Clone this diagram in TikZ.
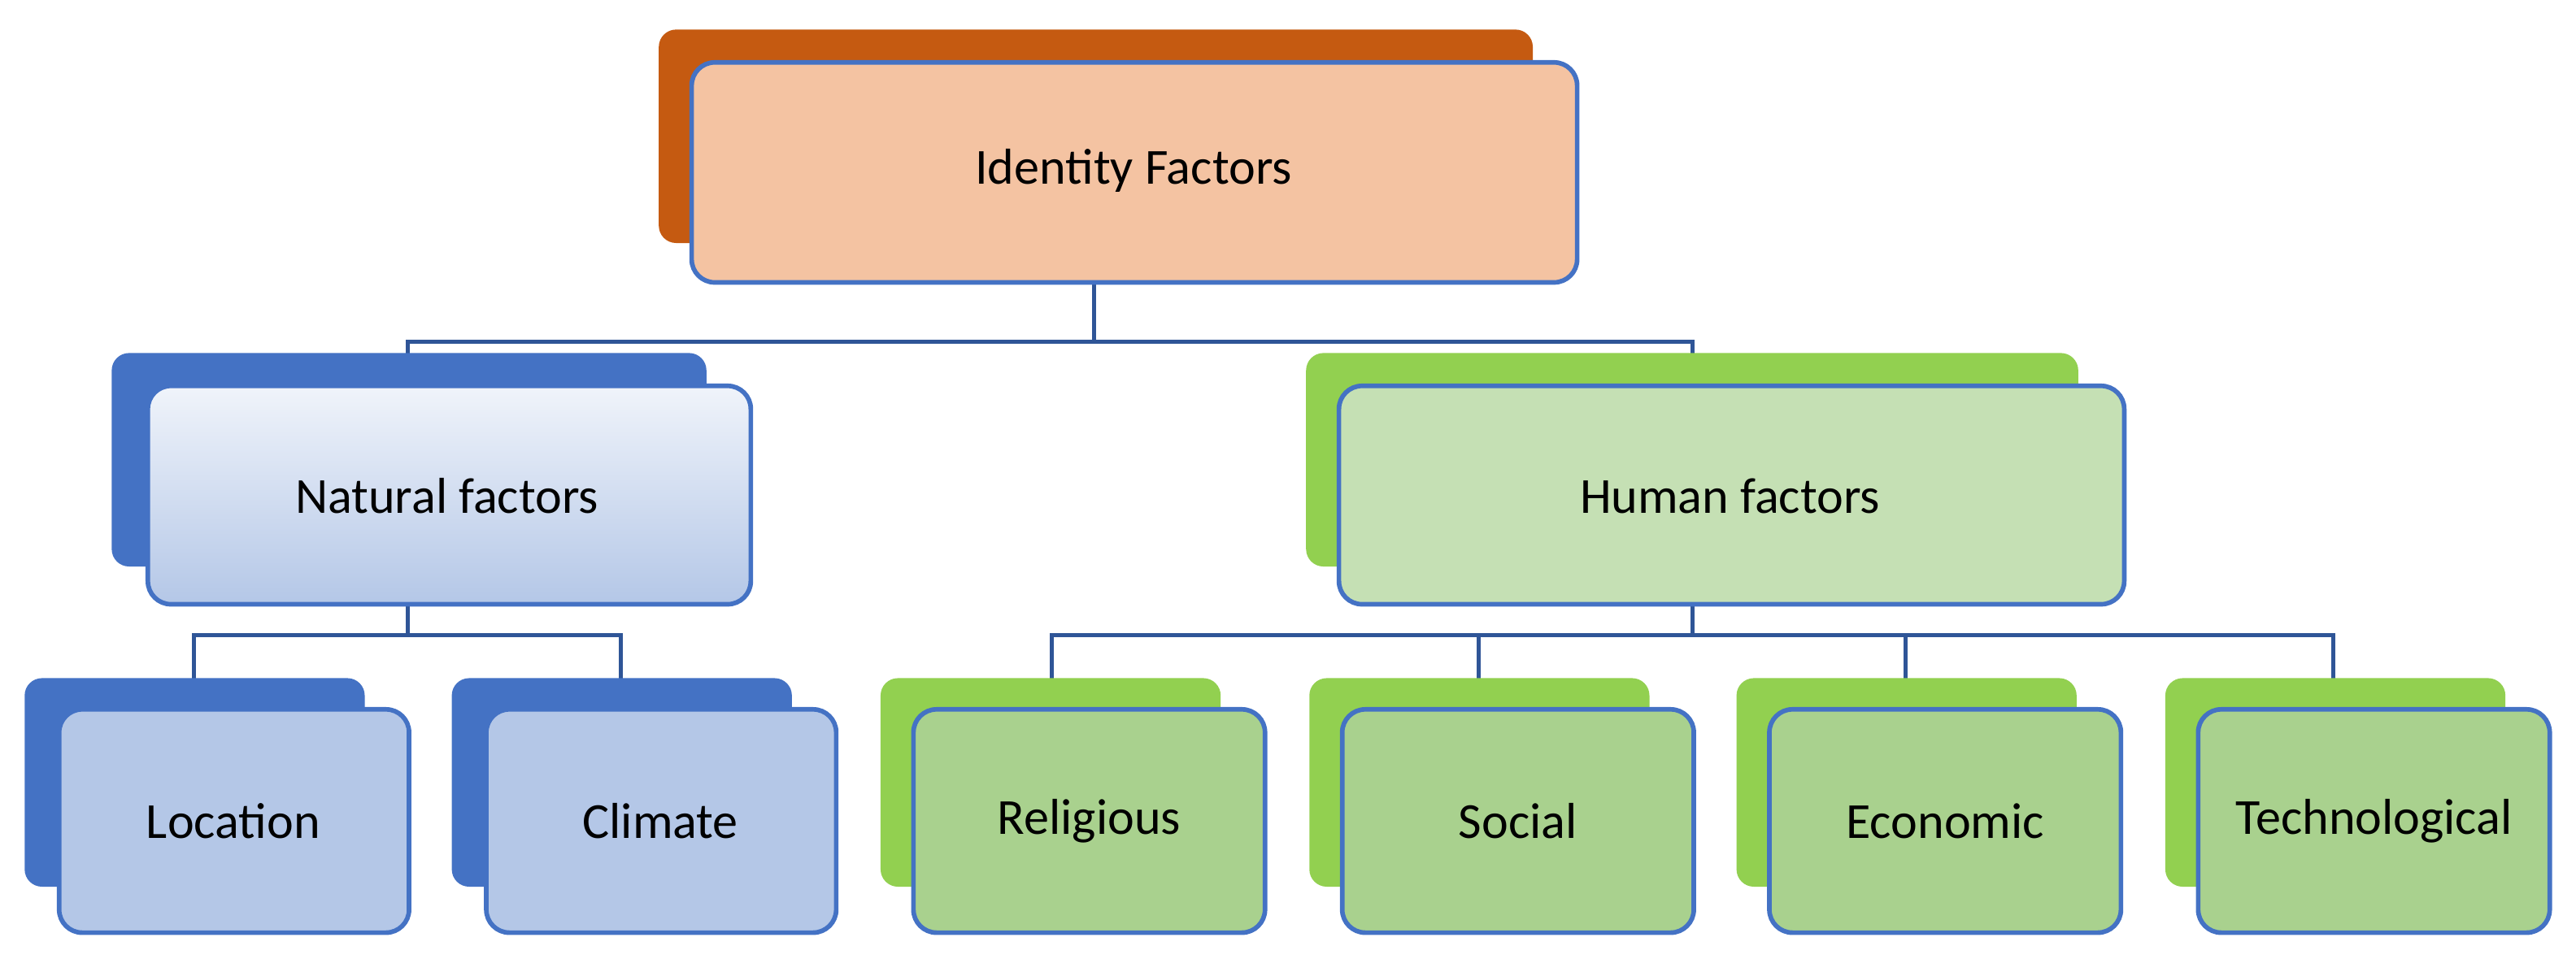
\documentclass[tikz,border=0pt]{standalone}
\usepackage{fontspec}
\setmainfont{Carlito}
\definecolor{orangeback}{HTML}{C55A11}
\definecolor{peach}{HTML}{F4C3A2}
\definecolor{blueback}{HTML}{4472C4}
\definecolor{lightblue}{HTML}{B4C7E7}
\definecolor{greenback}{HTML}{92D050}
\definecolor{lightgreen}{HTML}{A9D18E}
\definecolor{palegreen}{HTML}{C5E0B4}
\definecolor{linkblue}{HTML}{2F5597}
\tikzset{
    back/.style={rounded corners=6pt},
    front/.style={draw=blueback, line width=1.6pt, rounded corners=8pt},
    label/.style={font=\fontsize{17.5}{20}\selectfont, text=black},
    link/.style={draw=linkblue, line width=1.4pt}
}
\begin{document}
\begin{tikzpicture}[x=0.02cm,y=-0.02cm]
    \useasboundingbox (0,0) rectangle (1568,584);
    % connectors (behind the boxes)
    \coordinate (topout) at (666,172);
    \coordinate (natin) at (248,235);
    \coordinate (humin) at (1030,235);
    \draw[link] (topout) -- ++(0,36) -| (natin);
    \draw[link] (topout) ++(0,36) -| (humin);
    \coordinate (natout) at (248,368);
    \foreach \x in {118,378}{
        \draw[link] (natout) -- ++(0,19) -| (\x,432);
    }
    \coordinate (humout) at (1030,368);
    \foreach \x in {640,900,1160,1420}{
        \draw[link] (humout) -- ++(0,19) -| (\x,432);
    }
    % top box
    \fill[back, orangeback] (401,18) rectangle (933,148);
    \draw[front, fill=peach] (421,38) rectangle (960,172);
    \node[label] (identity) at (690,104) {Identity Factors};
    % second level
    \fill[back, blueback] (68,215) rectangle (430,345);
    \draw[front, top color=blueback!8, bottom color=lightblue] (90,235) rectangle (457,368);
    \node[label] (natural) at (272,302) {Natural factors};
    \fill[back, greenback] (795,215) rectangle (1265,345);
    \draw[front, fill=palegreen] (815,235) rectangle (1293,368);
    \node[label] (human) at (1053,302) {Human factors};
    % leaves
    \foreach \x/\name/\txt in {15/location/Location, 275/climate/Climate}{
        \fill[back, blueback] (\x,413) rectangle ++(207,127);
        \draw[front, fill=lightblue] (\x+21,432) rectangle ++(213,136);
        \node[label] (\name) at (\x+127,500) {\txt};
    }
    \foreach \x/\name/\txt in {536/religious/Religious, 797/social/Social,
                               1057/economic/Economic, 1318/technological/Technological}{
        \fill[back, greenback] (\x,413) rectangle ++(207,127);
        \draw[front, fill=lightgreen] (\x+20,432) rectangle ++(214,136);
        \node[label] (\name) at (\x+127,500) {\txt};
    }
\end{tikzpicture}
\end{document}
